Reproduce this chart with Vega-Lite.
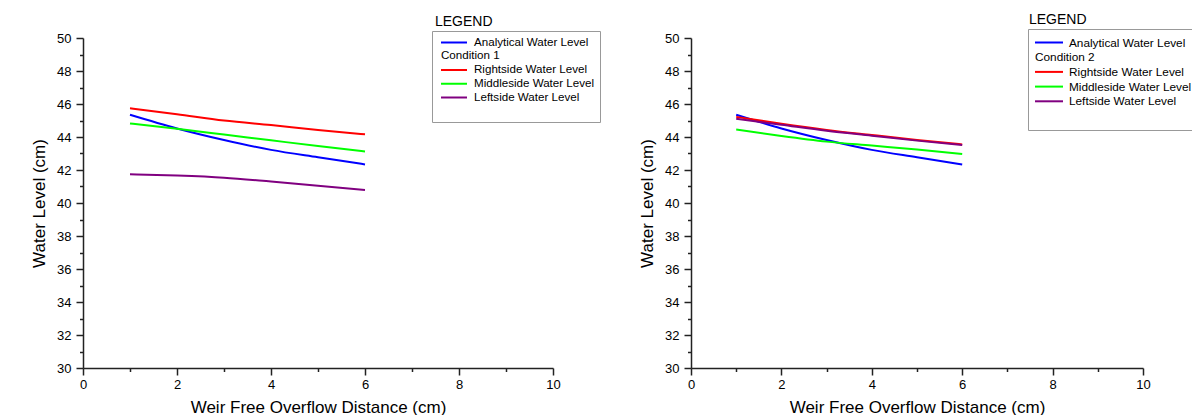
{
  "$schema": "https://vega.github.io/schema/vega-lite/v6.json",
  "autosize": {"type": "pad"},
  "padding": {"left": 30, "top": 12, "right": 0, "bottom": 0},
  "background": "white",
  "bounds": "flush",
  "spacing": 138,
  "config": {
    "view": {"stroke": null},
    "font": "Liberation Sans",
    "axis": {
      "labelFont": "Liberation Sans", "titleFont": "Liberation Sans",
      "labelFontSize": 13, "titleFontSize": 17, "titleFontWeight": "normal",
      "labelColor": "#000", "titleColor": "#000",
      "domainColor": "#222", "domainWidth": 1.5, "tickColor": "#222", "tickWidth": 1.5,
      "grid": false, "labelOverlap": false, "labelFlush": false
    }
  },
  "datasets": {
    "c1": [
      {"x": 1, "level": 45.35, "series": "Analytical Water Level"},
      {"x": 2, "level": 44.52, "series": "Analytical Water Level"},
      {"x": 3, "level": 43.82, "series": "Analytical Water Level"},
      {"x": 4, "level": 43.22, "series": "Analytical Water Level"},
      {"x": 5, "level": 42.77, "series": "Analytical Water Level"},
      {"x": 6, "level": 42.34, "series": "Analytical Water Level"},
      {"x": 1, "level": 45.74, "series": "Rightside Water Level"},
      {"x": 2, "level": 45.38, "series": "Rightside Water Level"},
      {"x": 3, "level": 45.0, "series": "Rightside Water Level"},
      {"x": 4, "level": 44.72, "series": "Rightside Water Level"},
      {"x": 5, "level": 44.43, "series": "Rightside Water Level"},
      {"x": 6, "level": 44.16, "series": "Rightside Water Level"},
      {"x": 1, "level": 44.82, "series": "Middleside Water Level"},
      {"x": 2, "level": 44.5, "series": "Middleside Water Level"},
      {"x": 3, "level": 44.15, "series": "Middleside Water Level"},
      {"x": 4, "level": 43.8, "series": "Middleside Water Level"},
      {"x": 5, "level": 43.45, "series": "Middleside Water Level"},
      {"x": 6, "level": 43.12, "series": "Middleside Water Level"},
      {"x": 1, "level": 41.74, "series": "Leftside Water Level"},
      {"x": 2, "level": 41.66, "series": "Leftside Water Level"},
      {"x": 3, "level": 41.53, "series": "Leftside Water Level"},
      {"x": 4, "level": 41.3, "series": "Leftside Water Level"},
      {"x": 5, "level": 41.05, "series": "Leftside Water Level"},
      {"x": 6, "level": 40.79, "series": "Leftside Water Level"}
    ],
    "c2": [
      {"x": 1, "level": 45.35, "series": "Analytical Water Level"},
      {"x": 2, "level": 44.52, "series": "Analytical Water Level"},
      {"x": 3, "level": 43.82, "series": "Analytical Water Level"},
      {"x": 4, "level": 43.22, "series": "Analytical Water Level"},
      {"x": 5, "level": 42.77, "series": "Analytical Water Level"},
      {"x": 6, "level": 42.33, "series": "Analytical Water Level"},
      {"x": 1, "level": 45.22, "series": "Rightside Water Level"},
      {"x": 2, "level": 44.8, "series": "Rightside Water Level"},
      {"x": 3, "level": 44.43, "series": "Rightside Water Level"},
      {"x": 4, "level": 44.12, "series": "Rightside Water Level"},
      {"x": 5, "level": 43.82, "series": "Rightside Water Level"},
      {"x": 6, "level": 43.55, "series": "Rightside Water Level"},
      {"x": 1, "level": 44.45, "series": "Middleside Water Level"},
      {"x": 2, "level": 44.06, "series": "Middleside Water Level"},
      {"x": 3, "level": 43.72, "series": "Middleside Water Level"},
      {"x": 4, "level": 43.48, "series": "Middleside Water Level"},
      {"x": 5, "level": 43.24, "series": "Middleside Water Level"},
      {"x": 6, "level": 42.97, "series": "Middleside Water Level"},
      {"x": 1, "level": 45.1, "series": "Leftside Water Level"},
      {"x": 2, "level": 44.74, "series": "Leftside Water Level"},
      {"x": 3, "level": 44.38, "series": "Leftside Water Level"},
      {"x": 4, "level": 44.08, "series": "Leftside Water Level"},
      {"x": 5, "level": 43.78, "series": "Leftside Water Level"},
      {"x": 6, "level": 43.52, "series": "Leftside Water Level"}
    ]
  },
  "hconcat": [
    {
      "width": 470,
      "height": 330,
      "title": {"text": "LEGEND", "anchor": "start", "frame": "group", "dx": 352, "fontSize": 14, "fontWeight": "normal", "font": "Liberation Sans", "color": "#000", "offset": 2},
      "data": {"name": "c1"},
      "mark": {"type": "line", "strokeWidth": 2, "interpolate": "monotone"},
      "encoding": {
        "x": {"field": "x", "type": "quantitative", "title": "Weir Free Overflow Distance (cm)",
          "scale": {"domain": [0, 10], "nice": false, "zero": false},
          "axis": {"values": [0,1,2,3,4,5,6,7,8,9,10], "labelExpr": "datum.value % 2 === 0 ? datum.label : ''",
            "tickSize": {"condition": {"test": "datum.value % 2 === 0", "value": 7}, "value": 3.5},
            "labelPadding": 3, "titlePadding": 8}},
        "y": {"field": "level", "type": "quantitative", "title": "Water Level (cm)",
          "scale": {"domain": [30, 50], "nice": false, "zero": false},
          "axis": {"values": [30,31,32,33,34,35,36,37,38,39,40,41,42,43,44,45,46,47,48,49,50], "labelExpr": "datum.value % 2 === 0 ? datum.label : ''",
            "tickSize": {"condition": {"test": "datum.value % 2 === 0", "value": 7}, "value": 3.5},
            "labelPadding": 5, "titlePadding": 8}},
        "color": {"field": "series", "type": "nominal",
          "scale": {"domain": ["Analytical Water Level", "Condition 1", "Rightside Water Level", "Middleside Water Level", "Leftside Water Level", " "],
                    "range": ["#0000ff", "transparent", "#ff0000", "#00ff00", "#800080", "transparent"]},
          "legend": {"orient": "none", "legendX": 349, "legendY": -7, "title": null,
            "strokeColor": "#999", "fillColor": "white", "padding": 5,
            "labelFont": "Liberation Sans", "labelFontSize": 11.6, "labelColor": "#000", "labelLimit": 400,
            "symbolType": "M-0.45,0H4.27", "symbolSize": 121, "symbolStrokeWidth": 2, "rowPadding": 0.75, "labelOffset": 24,
            "encode": {
              "labels": {"update": {"dx": {"signal": "datum.label === 'Condition 1' ? -33 : 0"}}}
            }}
        }
      }
    },
    {
      "width": 452,
      "height": 330,
      "title": {"text": "LEGEND", "anchor": "start", "frame": "group", "dx": 338, "fontSize": 14, "fontWeight": "normal", "font": "Liberation Sans", "color": "#000", "offset": 2},
      "data": {"name": "c2"},
      "mark": {"type": "line", "strokeWidth": 2, "interpolate": "monotone"},
      "encoding": {
        "x": {"field": "x", "type": "quantitative", "title": "Weir Free Overflow Distance (cm)",
          "scale": {"domain": [0, 10], "nice": false, "zero": false},
          "axis": {"values": [0,1,2,3,4,5,6,7,8,9,10], "labelExpr": "datum.value % 2 === 0 ? datum.label : ''",
            "tickSize": {"condition": {"test": "datum.value % 2 === 0", "value": 7}, "value": 3.5},
            "labelPadding": 3, "titlePadding": 8}},
        "y": {"field": "level", "type": "quantitative", "title": "Water Level (cm)",
          "scale": {"domain": [30, 50], "nice": false, "zero": false},
          "axis": {"values": [30,31,32,33,34,35,36,37,38,39,40,41,42,43,44,45,46,47,48,49,50], "labelExpr": "datum.value % 2 === 0 ? datum.label : ''",
            "tickSize": {"condition": {"test": "datum.value % 2 === 0", "value": 7}, "value": 3.5},
            "labelPadding": 5, "titlePadding": 8}},
        "color": {"field": "series", "type": "nominal",
          "scale": {"domain": ["Analytical Water Level", "Condition 2", "Rightside Water Level", "Middleside Water Level", "Leftside Water Level", " "],
                    "range": ["#0000ff", "transparent", "#ff0000", "#00ff00", "#800080", "transparent"]},
          "legend": {"orient": "none", "legendX": 337, "legendY": -9, "title": null,
            "strokeColor": "#999", "fillColor": "white", "padding": 7,
            "labelFont": "Liberation Sans", "labelFontSize": 11.8, "labelColor": "#000", "labelLimit": 400,
            "symbolType": "M-1.18,0H3.91", "symbolSize": 121, "symbolStrokeWidth": 2, "rowPadding": 0.7, "labelOffset": 21,
            "encode": {
              "labels": {"update": {"dx": {"signal": "datum.label === 'Condition 2' ? -34 : 0"}}}
            }}
        }
      }
    }
  ],
  "resolve": {"scale": {"color": "independent"}, "legend": {"color": "independent"}}
}
